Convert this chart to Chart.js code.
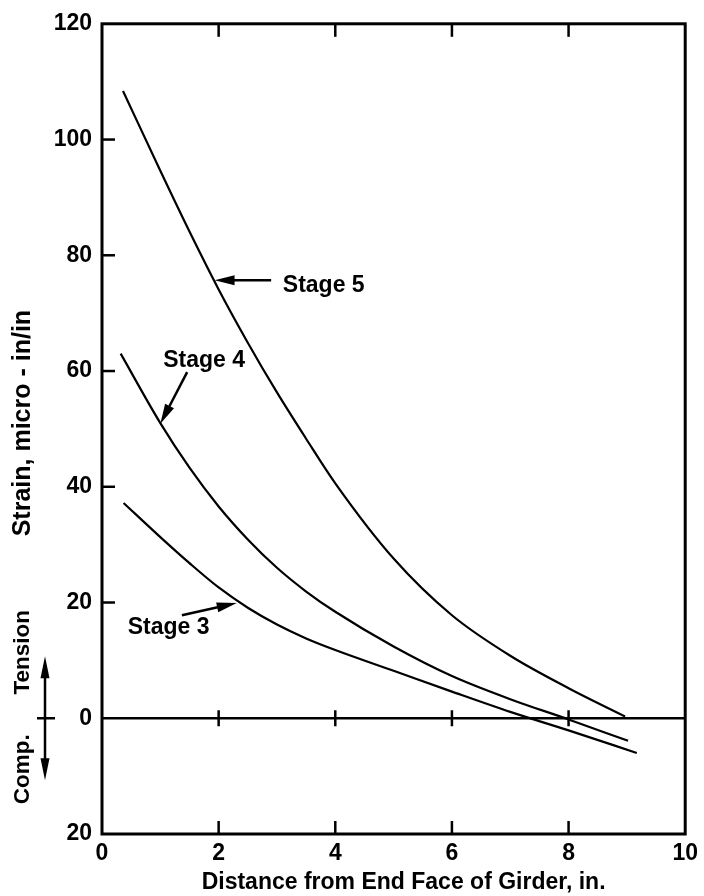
<!DOCTYPE html>
<html>
<head>
<meta charset="utf-8">
<script src="https://cdn.jsdelivr.net/npm/chart.js@4.4.0/dist/chart.umd.min.js"></script>
<style>
  html, body { margin: 0; padding: 0; background: #fff; }
</style>
</head>
<body>
<canvas id="strainChart" width="704" height="896"></canvas>
<script>
const xTicks = [0, 2, 4, 6, 8, 10];
const yTicks = [-20, 0, 20, 40, 60, 80, 100, 120];

// distance from end face (in.) and strain (micro in/in)
const stage3X = [0.37, 1, 1.5, 2, 2.5, 3, 3.5, 4, 5, 6, 7, 8, 9.17];
const stage3Y = [37.2, 31.3, 26.8, 22.6, 19.1, 16.2, 13.8, 11.8, 8.2, 4.6, 1.1, -2.1, -6.0];
const stage4X = [0.32, 1, 1.5, 2, 2.5, 3, 3.5, 4, 5, 6, 7, 8, 9.02];
const stage4Y = [63.0, 51.0, 43.3, 36.6, 30.9, 26.0, 21.9, 18.4, 12.4, 7.3, 3.3, -0.2, -3.9];
const stage5X = [0.36, 1, 1.5, 2, 2.5, 3, 3.5, 4, 5, 6, 7, 8, 8.97];
const stage5Y = [108.4, 94.6, 84.1, 74.1, 64.9, 56.3, 48.3, 40.6, 27.6, 17.8, 10.8, 5.2, 0.3];

const stageNames = ["Stage 3", "Stage 4", "Stage 5"];

// callout placement in data units: text left/middle, arrow tail, arrow tip
const notes = [
  { text: stageNames[0], at: [0.44, 15.6], from: [1.37, 17.8], to: [2.31, 19.9] },
  { text: stageNames[1], at: [1.05, 61.8], from: [1.46, 59.8], to: [1.0, 50.9] },
  { text: stageNames[2], at: [3.10, 74.8], from: [2.90, 75.7], to: [1.93, 75.7] }
];

const FAMILY = '"Liberation Sans", Arial, sans-serif';

function toPoints(xs, ys) {
  return xs.map((v, i) => ({ x: v, y: ys[i] }));
}

function line(ctx, x1, y1, x2, y2) {
  ctx.beginPath();
  ctx.moveTo(x1, y1);
  ctx.lineTo(x2, y2);
  ctx.stroke();
}

function arrow(ctx, fx, fy, tx, ty, len, half) {
  const ang = Math.atan2(ty - fy, tx - fx);
  const c = Math.cos(ang), s = Math.sin(ang);
  line(ctx, fx, fy, tx - c * len * 0.8, ty - s * len * 0.8);
  ctx.beginPath();
  ctx.moveTo(tx, ty);
  ctx.lineTo(tx - len * c + half * s, ty - len * s - half * c);
  ctx.lineTo(tx - len * c - half * s, ty - len * s + half * c);
  ctx.closePath();
  ctx.fill();
}

const decor = {
  id: 'decor',
  afterDatasetsDraw(chart) {
    const { ctx, chartArea: a, scales: { x, y } } = chart;
    const y0 = y.getPixelForValue(0);
    ctx.save();
    ctx.strokeStyle = '#000';
    ctx.fillStyle = '#000';

    // zero line
    ctx.lineWidth = 2.5;
    line(ctx, a.left, y0, a.right, y0);

    // inward tick marks
    yTicks.forEach(v => {
      if (v > -20 && v < 120 && v !== 0) {
        const p = y.getPixelForValue(v);
        line(ctx, a.left, p, a.left + 13, p);
      }
    });
    xTicks.forEach(v => {
      if (v > 0 && v < 10) {
        const p = x.getPixelForValue(v);
        line(ctx, p, a.top, p, a.top + 13);
        line(ctx, p, a.bottom, p, a.bottom - 13);
        line(ctx, p, y0 - 8, p, y0 + 8);
      }
    });

    // frame
    ctx.lineWidth = 3;
    ctx.strokeRect(a.left, a.top, a.right - a.left, a.bottom - a.top);

    // stage callouts
    ctx.font = 'bold 23px ' + FAMILY;
    ctx.textAlign = 'left';
    ctx.textBaseline = 'middle';
    ctx.lineWidth = 2.5;
    notes.forEach(n => {
      ctx.fillText(n.text, x.getPixelForValue(n.at[0]), y.getPixelForValue(n.at[1]));
      arrow(ctx,
        x.getPixelForValue(n.from[0]), y.getPixelForValue(n.from[1]),
        x.getPixelForValue(n.to[0]), y.getPixelForValue(n.to[1]), 20, 5);
    });

    // x title
    ctx.textAlign = 'center';
    ctx.textBaseline = 'alphabetic';
    ctx.fillText('Distance from End Face of Girder, in.', (a.left + a.right) / 2 + 10, a.bottom + 55);

    // y title and tension / compression marker
    const vert = (txt, cx, cy) => {
      ctx.save();
      ctx.translate(cx, cy);
      ctx.rotate(-Math.PI / 2);
      ctx.fillText(txt, 0, 0);
      ctx.restore();
    };
    ctx.font = 'bold 25px ' + FAMILY;
    vert('Strain, micro - in/in', 30, y.getPixelForValue(51));
    ctx.font = 'bold 22.5px ' + FAMILY;
    vert('Tension', 29, y0 - 66);
    vert('Comp.', 29, y0 + 51);

    ctx.lineWidth = 2.5;
    arrow(ctx, 45, y0, 45, y0 - 62, 22, 4.5);
    arrow(ctx, 45, y0, 45, y0 + 62, 22, 4.5);
    line(ctx, 37, y0, 55, y0);

    ctx.restore();
  }
};

const curveStyle = {
  borderColor: '#000',
  borderWidth: 2.2,
  pointRadius: 0,
  showLine: true,
  fill: false,
  cubicInterpolationMode: 'monotone'
};

new Chart(document.getElementById('strainChart'), {
  type: 'scatter',
  data: {
    datasets: [
      { label: stageNames[0], data: toPoints(stage3X, stage3Y), ...curveStyle },
      { label: stageNames[1], data: toPoints(stage4X, stage4Y), ...curveStyle },
      { label: stageNames[2], data: toPoints(stage5X, stage5Y), ...curveStyle }
    ]
  },
  options: {
    responsive: false,
    animation: false,
    devicePixelRatio: 1,
    layout: { padding: { top: 18, right: 15, left: 0, bottom: 0 } },
    plugins: { legend: { display: false }, tooltip: { enabled: false } },
    scales: {
      x: {
        type: 'linear',
        min: 0,
        max: 10,
        afterBuildTicks: s => { s.ticks = xTicks.map(v => ({ value: v })); },
        afterFit: s => { s.height = 62; },
        grid: { display: false, drawTicks: false },
        border: { display: false },
        ticks: {
          color: '#000',
          padding: 6,
          maxRotation: 0,
          font: { family: FAMILY, size: 23, weight: 'bold' }
        }
      },
      y: {
        type: 'linear',
        min: -20,
        max: 120,
        afterBuildTicks: s => { s.ticks = yTicks.map(v => ({ value: v })); },
        afterFit: s => { s.width = 102; },
        grid: { display: false, drawTicks: false },
        border: { display: false },
        ticks: {
          color: '#000',
          padding: 10,
          callback: v => String(Math.abs(v)),
          font: { family: FAMILY, size: 23, weight: 'bold' }
        }
      }
    }
  },
  plugins: [decor]
});
</script>
</body>
</html>
